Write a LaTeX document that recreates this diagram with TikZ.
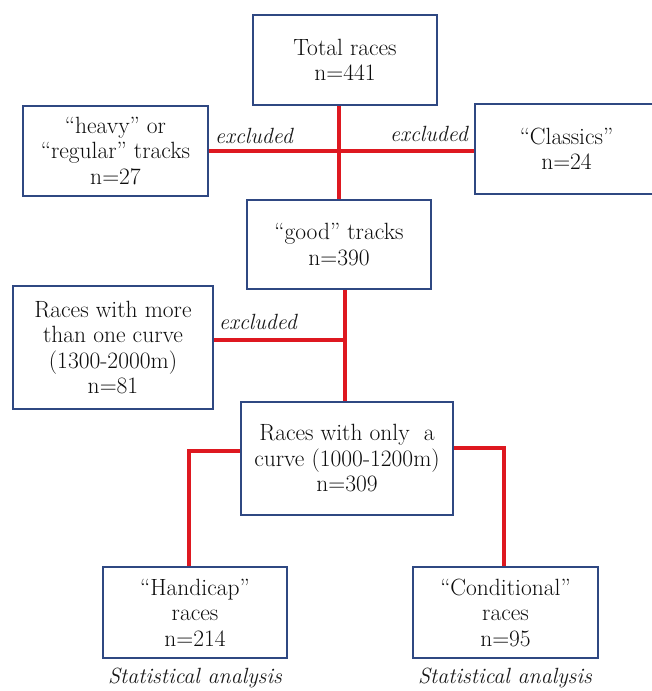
\documentclass[tikz,border=0pt]{standalone}
\begin{document}
\begin{tikzpicture}[x=1pt,y=-1pt,
  box/.style={draw=boxblue, line width=2.6pt, rectangle, inner sep=0pt, align=center,
    font=\fontsize{23.5}{25.5}\selectfont, text=black!95},
  redline/.style={draw=linered, line width=3.2pt},
  lab/.style={font=\fontsize{22}{24}\selectfont\itshape, text=black!90, inner sep=0pt}]
\definecolor{boxblue}{RGB}{47,72,130}
\definecolor{linered}{RGB}{222,24,32}
\useasboundingbox[fill=white] (0,0) rectangle (651,691);
% boxes
\node[box, minimum width=184pt, minimum height=90pt] (tot) at (345,60) {Total races\\n=441};
\node[box, minimum width=185pt, minimum height=90pt] (heavy) at (115.5,151) {“heavy” or\\“regular” tracks\\n=27};
\node[box, minimum width=183pt, minimum height=90pt, text width=170pt] (cls) at (566.5,149) {“Classics”\\n=24};
\node[box, minimum width=184pt, minimum height=89pt] (good) at (339,244.5) {“good” tracks\\n=390};
\node[box, minimum width=200pt, minimum height=123pt] (more) at (113,347.5) {Races with more\\than one curve\\(1300-2000m)\\n=81};
\node[box, minimum width=212pt, minimum height=113pt] (only) at (347,458.5) {Races with only\ \ a\\curve (1000-1200m)\\n=309};
\node[box, minimum width=184pt, minimum height=91pt] (hand) at (195,612.5) {“Handicap”\\races\\n=214};
\node[box, minimum width=185pt, minimum height=91pt] (cond) at (505.5,612.5) {“Conditional”\\races\\n=95};
% labels
\node[lab] (ex1) at (254,136) {excluded};
\node[lab] (ex2) at (429,134) {excluded};
\node[lab] (ex3) at (258,322) {excluded};
\node[lab] (sa1) at (195,678) {Statistical analysis};
\node[lab] (sa2) at (505,678) {Statistical analysis};
% junctions
\coordinate (j2) at (345,340);
\coordinate (hl) at (189,451);
\coordinate (hr) at (504,448);
% connectors
\draw[redline] (good.north |- tot.south) -- (good.north);
\draw[redline] (heavy.east) -- (cls.west |- heavy.east);
\draw[redline] (only.north -| j2) -- (j2 |- good.south);
\draw[redline] (more.east |- j2) -- (j2);
\draw[redline] (only.west |- hl) -- (hl) -- (hl |- hand.north);
\draw[redline] (only.east |- hr) -- (hr) -- (hr |- cond.north);
\end{tikzpicture}
\end{document}
